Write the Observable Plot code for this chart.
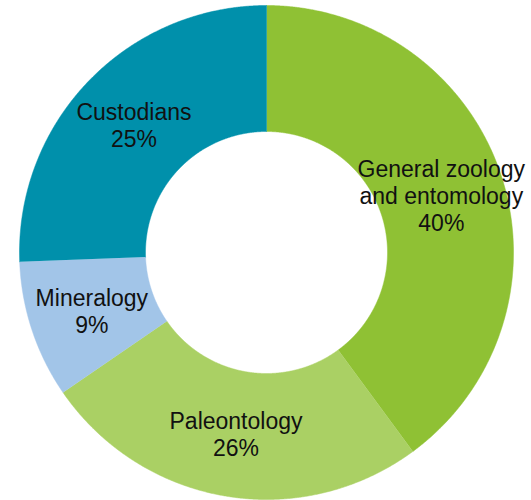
<!DOCTYPE html>
<html>
<head>
<meta charset="utf-8">
<script src="https://cdn.jsdelivr.net/npm/d3@7"></script>
<script src="https://cdn.jsdelivr.net/npm/@observablehq/plot@0.6"></script>
<style>
  html, body { margin: 0; padding: 0; background: #fff; }
  #chart svg { display: block; }
</style>
</head>
<body>
<div id="chart"></div>
<script>
// Data (clockwise from 12 o'clock)
const categories = ["General zoology\nand entomology", "Paleontology", "Mineralogy", "Custodians"];
const shares = [39.9, 25.5, 9.0, 25.6];
const shareLabels = ["40%", "26%", "9%", "25%"];
const colors = ["#8fc134", "#aad064", "#a2c5e8", "#0090ab"];

const innerRatio = 121 / 247;

const pie = d3.pie().sort(null).value(d => d)(shares);

// Build slice outlines in data space (unit circle)
const pts = [];
const step = Math.PI / 720;
pie.forEach((p, i) => {
  const a0 = p.startAngle, a1 = p.endAngle;
  const n = Math.max(2, Math.ceil((a1 - a0) / step));
  for (let k = 0; k <= n; k++) {
    const a = a0 + (a1 - a0) * k / n;
    pts.push({cat: categories[i], x: Math.sin(a), y: Math.cos(a)});
  }
  for (let k = n; k >= 0; k--) {
    const a = a0 + (a1 - a0) * k / n;
    pts.push({cat: categories[i], x: innerRatio * Math.sin(a), y: innerRatio * Math.cos(a)});
  }
});

const rMid = (1 + innerRatio) / 2;
const labels = pie.map((p, i) => {
  const a = (p.startAngle + p.endAngle) / 2;
  return {text: categories[i] + "\n" + shareLabels[i], x: rMid * Math.sin(a), y: rMid * Math.cos(a)};
});

const chart = Plot.plot({
  width: 531,
  height: 500,
  marginLeft: 19,
  marginRight: 18,
  marginTop: 5,
  marginBottom: 1,
  x: {domain: [-1, 1], axis: null},
  y: {domain: [-1, 1], axis: null},
  color: {domain: categories, range: colors},
  style: {fontFamily: "'Liberation Sans Narrow', 'Liberation Sans', sans-serif", background: "#fff"},
  marks: [
    Plot.line(pts, {x: "x", y: "y", z: "cat", fill: "cat", stroke: "cat", strokeWidth: 0.5, curve: "linear"}),
    Plot.text(labels, {x: "x", y: "y", text: "text", fontSize: 23, lineHeight: 1.18, lineAnchor: "middle", textAnchor: "middle", fill: "#111"})
  ]
});
document.getElementById("chart").appendChild(chart);
</script>
</body>
</html>
